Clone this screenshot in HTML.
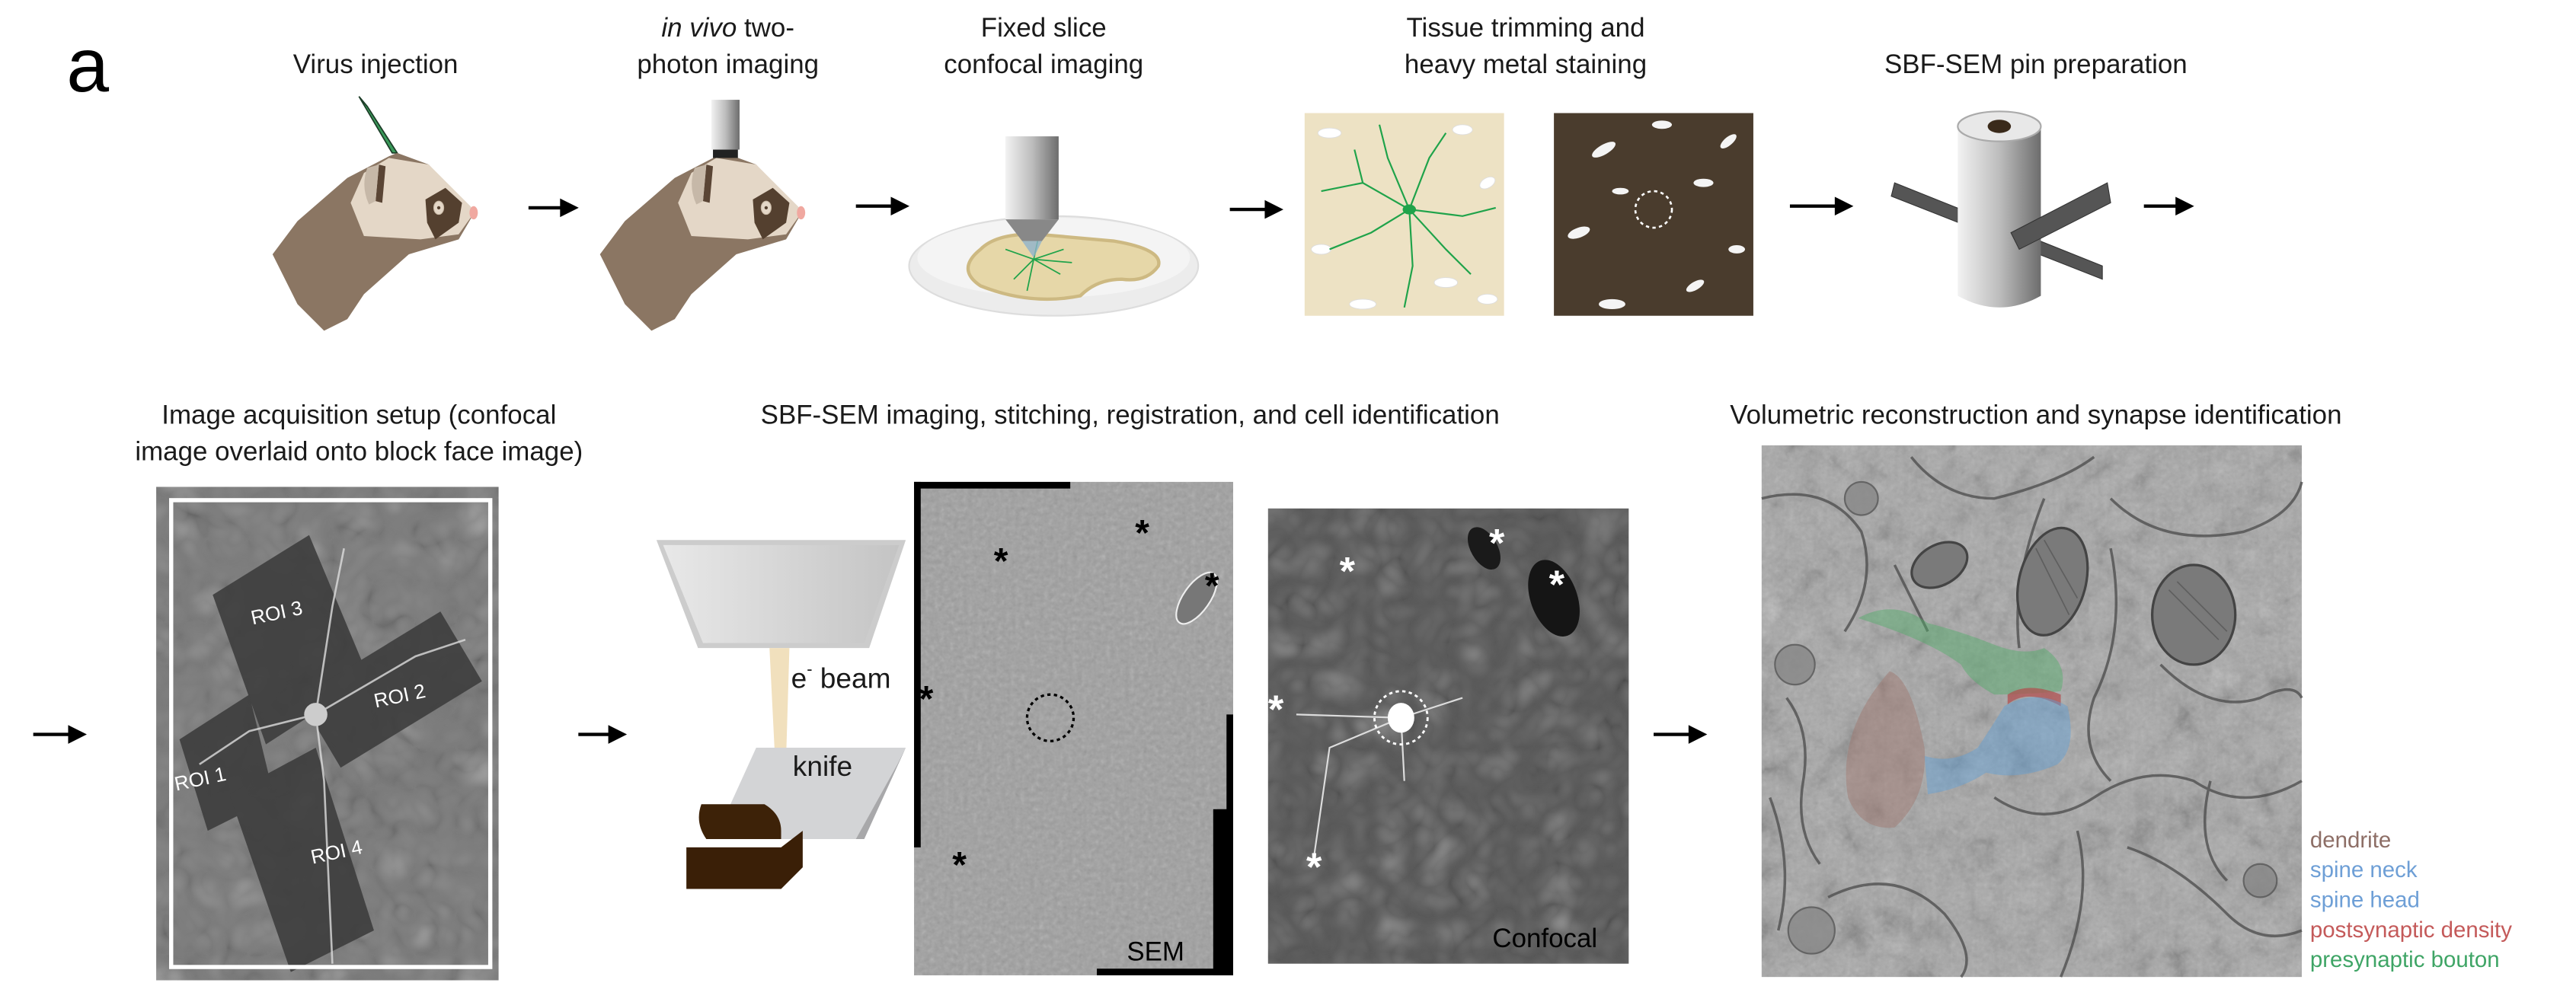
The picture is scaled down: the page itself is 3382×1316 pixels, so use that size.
<!DOCTYPE html>
<html><head><meta charset="utf-8"><style>
html,body{margin:0;padding:0;background:#fff;}
svg{display:block;}
text{font-family:"Liberation Sans",Arial,sans-serif;}
</style></head><body>
<svg width="3382" height="1316" viewBox="0 0 1550 603" xmlns="http://www.w3.org/2000/svg">
<defs>
<filter id="noise" x="0" y="0" width="100%" height="100%">
<feTurbulence type="fractalNoise" baseFrequency="0.35" numOctaves="2" seed="3"/>
<feColorMatrix type="saturate" values="0"/>
<feComponentTransfer><feFuncA type="linear" slope="0.35"/></feComponentTransfer>
<feComposite in2="SourceGraphic" operator="in"/>
</filter>
<filter id="cells" x="0" y="0" width="100%" height="100%">
<feTurbulence type="turbulence" baseFrequency="0.04" numOctaves="2" seed="7"/>
<feColorMatrix type="saturate" values="0"/>
<feComponentTransfer><feFuncA type="linear" slope="0.6"/></feComponentTransfer>
<feComposite in2="SourceGraphic" operator="in"/>
</filter>
<linearGradient id="steel" x1="0" x2="1"><stop offset="0" stop-color="#f2f2f2"/><stop offset="0.5" stop-color="#bdbdbd"/><stop offset="1" stop-color="#6d6d6d"/></linearGradient>
<linearGradient id="cone" x1="0" x2="1"><stop offset="0" stop-color="#e8e8e8"/><stop offset="1" stop-color="#c4c4c4"/></linearGradient>
<g id="ferret">
<path d="M239,92 L258,99 L278,122 L286,127 L276,144 L246,153 L219,177 L209,192 L195,199 L179,183 L164,153 L179,133 L209,107 L234,94 Z" fill="#8b7663"/>
<path d="M234,95 L258,99 L286,127 L276,141 L253,144 L219,142 L211,122 L219,104 Z" fill="#e4d7c7"/>
<path d="M228,99 L232,100 L230,122 L226,121 Z" fill="#5a4535"/>
<path d="M221,101 Q217,112 222,123 L226,121 L228,99 Z" fill="#c6b8a8"/>
<path d="M268,113 L278,122 L276,134 L262,144 L257,134 L256,120 Z" fill="#54402f"/>
<ellipse cx="264" cy="125" rx="3" ry="4" fill="#e4d7c7" stroke="#c9b9a5" stroke-width="0.5"/>
<circle cx="264" cy="125" r="1" fill="#54402f"/>
<ellipse cx="285" cy="128" rx="2.5" ry="4" fill="#f0a8a0"/>
</g>
</defs>

<text x="40" y="55" font-size="46">a</text>
<g font-size="16" text-anchor="middle" fill="#1a1a1a">
<text x="226" y="44">Virus injection</text>
<text x="438" y="22"><tspan font-style="italic">in vivo</tspan> two-</text>
<text x="438" y="44">photon imaging</text>
<text x="628" y="22">Fixed slice</text>
<text x="628" y="44">confocal imaging</text>
<text x="918" y="22">Tissue trimming and</text>
<text x="918" y="44">heavy metal staining</text>
<text x="1225" y="44">SBF-SEM pin preparation</text>
<text x="216" y="255">Image acquisition setup (confocal</text>
<text x="216" y="277">image overlaid onto block face image)</text>
<text x="680" y="255">SBF-SEM imaging, stitching, registration, and cell identification</text>
<text x="1225" y="255">Volumetric reconstruction and synapse identification</text>
</g>

<g stroke="#000" stroke-width="2" fill="#000">
<line x1="318" y1="125" x2="340" y2="125"/><path d="M338,121 L346,125 L338,129Z"/>
<line x1="515" y1="124" x2="539" y2="124"/><path d="M537,120 L545,124 L537,128Z"/>
<line x1="740" y1="126" x2="764" y2="126"/><path d="M762,122 L770,126 L762,130Z"/>
<line x1="1077" y1="124" x2="1107" y2="124"/><path d="M1105,120 L1113,124 L1105,128Z"/>
<line x1="1290" y1="124" x2="1312" y2="124"/><path d="M1310,120 L1318,124 L1310,128Z"/>
<line x1="20" y1="442" x2="44" y2="442"/><path d="M42,438 L50,442 L42,446Z"/>
<line x1="348" y1="442" x2="369" y2="442"/><path d="M367,438 L375,442 L367,446Z"/>
<line x1="995" y1="442" x2="1019" y2="442"/><path d="M1017,438 L1025,442 L1017,446Z"/>
</g>

<path d="M216,58 L221,64 L239,92 L236,92 Z" fill="#3a9a5a" stroke="#1d3d28" stroke-width="0.8"/>
<use href="#ferret"/>
<use href="#ferret" transform="translate(197,0)"/>
<rect x="428" y="60" width="17" height="30" fill="url(#steel)"/>
<rect x="429" y="90" width="15" height="5" fill="#222"/>

<ellipse cx="634" cy="160" rx="87" ry="30" fill="#ececec" stroke="#ddd"/>
<ellipse cx="634" cy="155" rx="82" ry="24" fill="#f4f4f4"/>
<path d="M590,150 Q600,140 625,141 L670,145 Q700,150 697,160 Q690,170 675,168 Q660,168 650,178 Q620,184 590,172 Q575,162 590,150Z" fill="#e6d7a8" stroke="#cdb982" stroke-width="2"/>
<g stroke="#1fa34a" stroke-width="0.8" fill="none">
<path d="M622,156 L605,150 M622,156 L640,150 M622,156 L610,168 M622,156 L638,165 M622,156 L625,142 M622,156 L618,175 M622,156 L645,158"/>
</g>
<rect x="605" y="82" width="32" height="50" fill="url(#steel)"/>
<path d="M605,132 L637,132 L627,145 L615,145Z" fill="#888"/>
<path d="M615,145 L627,145 L622,155Z" fill="#8fb3cc" opacity="0.8"/>

<rect x="785" y="68" width="120" height="122" fill="#ede2c4"/>
<g fill="#fff" stroke="#ddd" stroke-width="0.4">
<ellipse cx="800" cy="80" rx="7" ry="3"/><ellipse cx="880" cy="78" rx="6" ry="3"/><ellipse cx="895" cy="110" rx="5" ry="3" transform="rotate(-30 895 110)"/>
<ellipse cx="820" cy="183" rx="8" ry="3"/><ellipse cx="870" cy="170" rx="7" ry="3"/><ellipse cx="795" cy="150" rx="6" ry="3"/><ellipse cx="895" cy="180" rx="6" ry="3"/>
</g>
<g stroke="#1fa34a" stroke-width="1" fill="none">
<path d="M848,126 L820,110 L795,115 M848,126 L825,140 L800,150 M848,126 L860,95 L870,80 M848,126 L880,130 L900,125 M848,126 L850,160 L845,185 M848,126 L870,150 L885,165 M848,126 L835,95 L830,75 M820,110 L815,90"/>
</g>
<ellipse cx="848" cy="126" rx="4" ry="3" fill="#1fa34a"/>
<rect x="935" y="68" width="120" height="122" fill="#4a3c2d"/>
<g fill="#f4f4f4">
<ellipse cx="965" cy="90" rx="8" ry="3" transform="rotate(-30 965 90)"/><ellipse cx="1000" cy="75" rx="6" ry="2.5"/><ellipse cx="1040" cy="85" rx="6" ry="2.5" transform="rotate(-40 1040 85)"/>
<ellipse cx="950" cy="140" rx="7" ry="3" transform="rotate(-20 950 140)"/><ellipse cx="1025" cy="110" rx="6" ry="2.5"/><ellipse cx="970" cy="183" rx="8" ry="3"/>
<ellipse cx="1020" cy="172" rx="6" ry="2.5" transform="rotate(-30 1020 172)"/><ellipse cx="1045" cy="150" rx="5" ry="2.5"/><ellipse cx="975" cy="115" rx="5" ry="2"/>
</g>
<circle cx="995" cy="126" r="11" fill="none" stroke="#fff" stroke-width="1.2" stroke-dasharray="2 2"/>

<path d="M1140,110 L1265,160 L1265,168 L1138,118Z" fill="#555" stroke="#333" stroke-width="0.5"/>
<path d="M1178,76 L1228,76 L1228,178 Q1203,192 1178,178Z" fill="url(#steel)"/>
<ellipse cx="1203" cy="76" rx="25" ry="9" fill="#e8e8e8" stroke="#aaa"/>
<ellipse cx="1203" cy="76" rx="7" ry="4" fill="#3a2a1a"/>
<path d="M1268,110 L1210,140 L1215,150 L1270,122Z" fill="#555" stroke="#333" stroke-width="0.5"/>

<rect x="94" y="293" width="206" height="297" fill="#7d7d7d"/>
<rect x="94" y="293" width="206" height="297" fill="#7d7d7d" filter="url(#cells)"/>
<g fill="#3d3d3d" opacity="0.9">
<path d="M128,358 L186,322 L222,408 L160,448Z"/>
<path d="M180,420 L265,368 L290,410 L205,462Z"/>
<path d="M108,445 L150,418 L165,480 L125,500Z"/>
<path d="M138,478 L190,450 L225,560 L175,585Z"/>
</g>
<g stroke="#ddd" stroke-width="1.2" fill="none" opacity="0.8">
<path d="M190,430 L200,365 L207,330 M190,430 L250,395 L280,385 M190,430 L150,440 L120,460 M190,430 L195,470 L200,580"/>
</g>
<circle cx="190" cy="430" r="7" fill="#ccc"/>
<rect x="103" y="301" width="192" height="281" fill="none" stroke="#fff" stroke-width="2.5"/>
<g fill="#fff" font-size="12">
<text x="152" y="376" transform="rotate(-12 152 376)">ROI 3</text>
<text x="226" y="426" transform="rotate(-12 226 426)">ROI 2</text>
<text x="106" y="476" transform="rotate(-12 106 476)">ROI 1</text>
<text x="188" y="520" transform="rotate(-12 188 520)">ROI 4</text>
</g>

<path d="M395,325 L545,325 L523,390 L420,390Z" fill="#ccc"/>
<path d="M399,328 L541,328 L520,387 L423,387Z" fill="url(#cone)"/>
<path d="M463,390 L475,390 L472,490 L468,490Z" fill="#f1e0bd"/>
<text x="476" y="414" font-size="17" fill="#1a1a1a">e<tspan font-size="10" dy="-8">-</tspan><tspan dy="8"> beam</tspan></text>
<path d="M455,450 L545,450 L520,505 L430,505Z" fill="#d3d4d6"/>
<path d="M545,450 L520,505 L515,505 L540,460Z" fill="#a8a8aa"/>
<text x="477" y="467" font-size="17" fill="#1a1a1a">knife</text>
<path d="M422,484 L460,484 Q470,490 470,500 L470,505 L425,505 Q418,495 422,484Z" fill="#3d2208"/>
<path d="M413,510 L470,510 L483,500 L483,522 L470,535 L413,535Z" fill="#3a1f07"/>

<rect x="550" y="290" width="192" height="297" fill="#9e9e9e"/>
<rect x="550" y="290" width="192" height="297" fill="#a0a0a0" filter="url(#noise)"/>
<rect x="550" y="290" width="4" height="220" fill="#000"/>
<rect x="550" y="290" width="94" height="4" fill="#000"/>
<rect x="738" y="430" width="4" height="157" fill="#000"/>
<rect x="730" y="487" width="12" height="100" fill="#000"/>
<rect x="660" y="583" width="82" height="4" fill="#000"/>
<ellipse cx="720" cy="360" rx="8" ry="18" transform="rotate(35 720 360)" fill="#777" stroke="#eee"/>
<circle cx="632" cy="432" r="14" fill="none" stroke="#000" stroke-width="1.5" stroke-dasharray="2 2"/>
<g font-size="22" font-weight="bold" fill="#000">
<text x="598" y="345">*</text><text x="683" y="328">*</text><text x="725" y="360">*</text><text x="553" y="428">*</text><text x="573" y="528">*</text>
</g>
<text x="678" y="578" font-size="16" fill="#000">SEM</text>

<rect x="763" y="306" width="217" height="274" fill="#5a5a5a"/>
<rect x="763" y="306" width="217" height="274" fill="#5f5f5f" filter="url(#cells)"/>
<ellipse cx="935" cy="360" rx="14" ry="24" fill="#151515" transform="rotate(-20 935 360)"/>
<ellipse cx="893" cy="330" rx="8" ry="14" fill="#1a1a1a" transform="rotate(-30 893 330)"/>
<g stroke="#ddd" stroke-width="1" fill="none"><path d="M843,432 L780,430 M843,432 L880,420 M843,432 L800,450 L790,520 M843,432 L845,470"/></g>
<ellipse cx="843" cy="432" rx="8" ry="9" fill="#fff"/>
<circle cx="843" cy="432" r="16" fill="none" stroke="#fff" stroke-width="1.3" stroke-dasharray="2 2"/>
<g font-size="24" font-weight="bold" fill="#fff">
<text x="806" y="352">*</text><text x="896" y="335">*</text><text x="932" y="360">*</text><text x="763" y="435">*</text><text x="786" y="530">*</text>
</g>
<text x="898" y="570" font-size="16" fill="#000">Confocal</text>

<rect x="1060" y="268" width="325" height="320" fill="#a9a9a9"/>
<rect x="1060" y="268" width="325" height="320" fill="#aaa" filter="url(#cells)"/>
<rect x="1060" y="268" width="325" height="320" fill="#aaa" filter="url(#noise)" opacity="0.8"/>
<g fill="none" stroke="#4a4a4a" stroke-width="1.6" opacity="0.75">
<path d="M1060,300 Q1100,290 1120,320 Q1130,350 1110,380"/>
<path d="M1150,275 Q1170,300 1200,300 Q1240,290 1260,275"/>
<path d="M1270,300 Q1300,330 1350,320 Q1380,310 1385,290"/>
<path d="M1075,420 Q1090,440 1085,470 Q1080,500 1095,520"/>
<path d="M1200,480 Q1230,500 1260,480 Q1290,460 1320,470 Q1350,490 1385,470"/>
<path d="M1250,500 Q1260,540 1240,588"/>
<path d="M1300,400 Q1330,430 1360,420 Q1380,410 1385,420"/>
<path d="M1100,540 Q1140,520 1170,550 Q1190,575 1180,588"/>
<path d="M1280,510 Q1310,520 1340,550 Q1360,570 1385,560"/>
<path d="M1230,300 Q1210,350 1215,390"/>
<path d="M1270,330 Q1280,380 1260,420 Q1250,450 1270,470"/>
<path d="M1160,380 Q1150,360 1140,340"/>
<path d="M1065,480 Q1080,520 1070,560"/>
<path d="M1330,470 Q1320,510 1340,530"/>
</g>
<g fill="#888" stroke="#555" stroke-width="1" opacity="0.8">
<circle cx="1080" cy="400" r="12"/><circle cx="1090" cy="560" r="14"/><circle cx="1360" cy="530" r="10"/><circle cx="1120" cy="300" r="10"/>
</g>
<g fill="#7a7a7a" stroke="#444" stroke-width="1.5">
<ellipse cx="1235" cy="350" rx="20" ry="33" transform="rotate(15 1235 350)"/>
<ellipse cx="1320" cy="370" rx="25" ry="30"/>
<ellipse cx="1167" cy="340" rx="18" ry="12" transform="rotate(-30 1167 340)"/>
</g>
<g stroke="#555" stroke-width="0.8" opacity="0.7">
<path d="M1225,330 L1245,370 M1230,325 L1250,360 M1305,355 L1335,385 M1310,350 L1340,380"/>
</g>
<path d="M1118,372 Q1140,360 1160,375 Q1180,380 1200,388 Q1218,395 1230,390 Q1245,400 1240,416 Q1220,418 1200,418 Q1185,410 1180,400 Q1160,385 1118,372Z" fill="#4fae68" opacity="0.45"/>
<path d="M1208,418 Q1220,410 1240,418 L1240,425 Q1220,414 1208,424Z" fill="#b24c4c" opacity="0.7"/>
<path d="M1206,425 Q1225,414 1244,425 Q1250,450 1238,460 Q1215,470 1195,465 Q1180,475 1160,478 L1158,455 Q1175,460 1190,450 Q1200,435 1206,425Z" fill="#5f9fd8" opacity="0.45"/>
<path d="M1137,404 Q1150,408 1158,450 Q1160,480 1140,498 Q1120,500 1112,480 Q1105,440 1137,404Z" fill="#a07a72" opacity="0.5"/>
<g font-size="13.5">
<text x="1390" y="510" fill="#8d6e66">dendrite</text>
<text x="1390" y="528" fill="#6e9fd6">spine neck</text>
<text x="1390" y="546" fill="#6e9fd6">spine head</text>
<text x="1390" y="564" fill="#c45a5a">postsynaptic density</text>
<text x="1390" y="582" fill="#3fa566">presynaptic bouton</text>
</g>
</svg>
</body></html>
